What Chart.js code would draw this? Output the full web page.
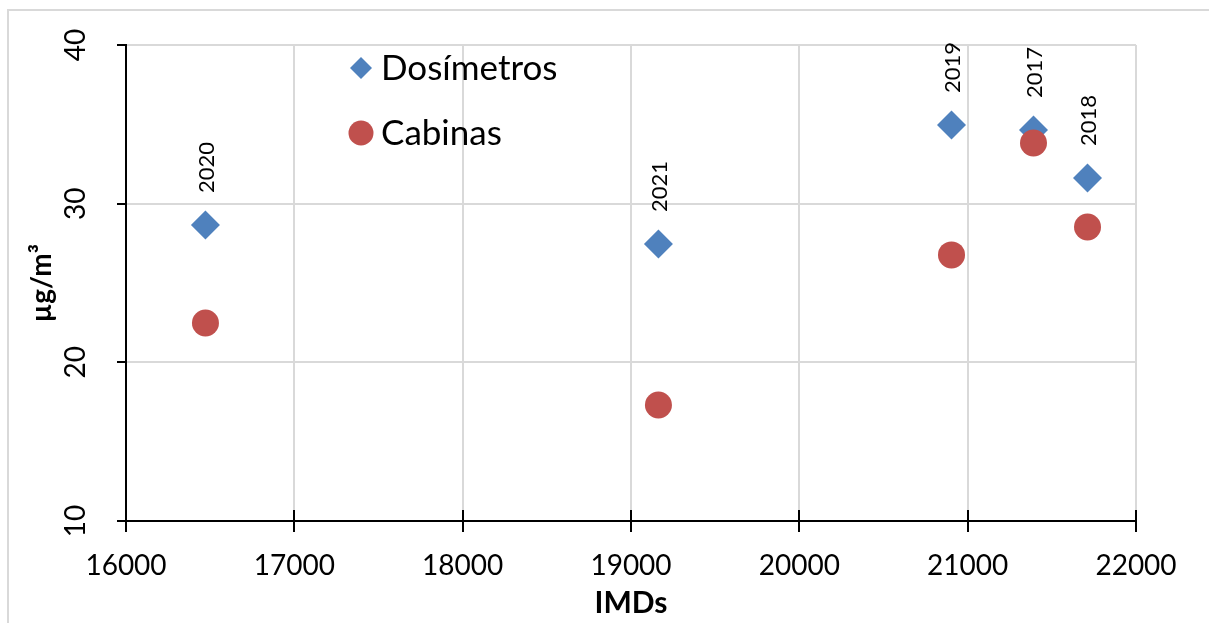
<!DOCTYPE html>
<html>
<head>
<meta charset="utf-8">
<script src="https://cdn.jsdelivr.net/npm/chart.js@4.4.1/dist/chart.umd.min.js"></script>
<style>
  html, body { margin: 0; padding: 0; background: #fff; }
  #wrap { width: 1209px; height: 623px; position: relative; }
</style>
</head>
<body>
<div id="wrap"><canvas id="c"></canvas></div>
<script>
// ---- data ----
const imds = [16472, 19163, 20904, 21391, 21712];
const years = ['2020', '2021', '2019', '2017', '2018'];
const dosimetros = [28.66, 27.46, 34.96, 34.64, 31.62];
const cabinas = [22.48, 17.31, 26.77, 33.82, 28.53];
const xTickValues = [16000, 17000, 18000, 19000, 20000, 21000, 22000];
const yTickValues = [10, 20, 30, 40];
const seriesNames = ['Dosímetros', 'Cabinas'];
const xTitle = 'IMDs';
const yTitle = 'µg/m³';

const FONT = 'Lato, "Open Sans", "Liberation Sans", sans-serif';
const BLUE = '#4f81bd';
const RED = '#c0504d';

const drawPlugin = {
  id: 'excelLook',
  beforeDraw(chart) {
    const ctx = chart.ctx;
    ctx.save();
    ctx.fillStyle = '#fff';
    ctx.fillRect(0, 0, chart.width, chart.height);
    ctx.strokeStyle = '#d9d9d9';
    ctx.lineWidth = 2;
    ctx.strokeRect(8, 10, 1400, 800);
    ctx.restore();
  },
  afterDraw(chart) {
    const ctx = chart.ctx;
    const xs = chart.scales.x, ys = chart.scales.y;
    const area = chart.chartArea;
    ctx.save();
    ctx.strokeStyle = '#000';
    ctx.lineWidth = 2;
    // x tick marks (cross)
    xTickValues.forEach(v => {
      const px = Math.round(xs.getPixelForValue(v));
      ctx.beginPath();
      ctx.moveTo(px, area.bottom - 11);
      ctx.lineTo(px, area.bottom + 11);
      ctx.stroke();
    });
    // y tick marks (outside)
    yTickValues.forEach(v => {
      const py = Math.round(ys.getPixelForValue(v));
      ctx.beginPath();
      ctx.moveTo(area.left - 9, py);
      ctx.lineTo(area.left, py);
      ctx.stroke();
    });
    ctx.fillStyle = '#000';
    // x tick labels
    ctx.font = '28px ' + FONT;
    ctx.textAlign = 'center';
    ctx.textBaseline = 'middle';
    xTickValues.forEach(v => {
      ctx.fillText(String(v), xs.getPixelForValue(v), 566);
    });
    // y tick labels rotated
    yTickValues.forEach(v => {
      ctx.save();
      ctx.translate(76, ys.getPixelForValue(v));
      ctx.rotate(-Math.PI / 2);
      ctx.fillText(String(v), 0, 0);
      ctx.restore();
    });
    // axis titles
    ctx.font = 'bold 30px ' + FONT;
    ctx.fillText(xTitle, (area.left + area.right) / 2, 603);
    ctx.save();
    ctx.translate(42, (area.top + area.bottom) / 2);
    ctx.rotate(-Math.PI / 2);
    ctx.font = 'bold 28px ' + FONT;
    ctx.fillText(yTitle, 0, 0);
    ctx.restore();
    // data labels (years) on dosimetros points
    const meta = chart.getDatasetMeta(0);
    ctx.font = '22px ' + FONT;
    ctx.textAlign = 'left';
    ctx.textBaseline = 'middle';
    meta.data.forEach((pt, i) => {
      ctx.save();
      ctx.translate(pt.x + 1, pt.y - 32);
      ctx.rotate(-Math.PI / 2);
      ctx.fillText(years[i], 0, 0);
      ctx.restore();
    });
    // legend
    const lx = 361;
    const ly = [68, 133];
    ctx.fillStyle = BLUE;
    ctx.beginPath();
    ctx.moveTo(lx, ly[0] - 11);
    ctx.lineTo(lx + 11, ly[0]);
    ctx.lineTo(lx, ly[0] + 11);
    ctx.lineTo(lx - 11, ly[0]);
    ctx.closePath();
    ctx.fill();
    ctx.fillStyle = RED;
    ctx.beginPath();
    ctx.arc(lx, ly[1], 12.5, 0, Math.PI * 2);
    ctx.fill();
    ctx.fillStyle = '#000';
    ctx.font = '35px ' + FONT;
    ctx.textAlign = 'left';
    ctx.fillText(seriesNames[0], 381, ly[0] + 1);
    ctx.fillText(seriesNames[1], 381, ly[1] + 1);
    ctx.restore();
  }
};

const toPoints = (xsArr, ysArr) => xsArr.map((x, i) => ({ x: x, y: ysArr[i] }));

new Chart(document.getElementById('c'), {
  type: 'scatter',
  data: {
    datasets: [
      {
        label: seriesNames[0],
        data: toPoints(imds, dosimetros),
        pointStyle: 'rectRot',
        pointRadius: 14.5,
        pointHoverRadius: 14.5,
        backgroundColor: BLUE,
        borderWidth: 0,
        order: 1
      },
      {
        label: seriesNames[1],
        data: toPoints(imds, cabinas),
        pointStyle: 'circle',
        pointRadius: 13.5,
        pointHoverRadius: 13.5,
        backgroundColor: RED,
        borderWidth: 0,
        order: 0
      }
    ]
  },
  options: {
    responsive: true,
    maintainAspectRatio: false,
    animation: false,
    events: [],
    layout: { padding: { left: 0, top: 45, right: 73, bottom: 0 } },
    plugins: { legend: { display: false }, tooltip: { enabled: false } },
    scales: {
      x: {
        type: 'linear',
        min: 16000, max: 22000,
        ticks: { stepSize: 1000, display: false },
        grid: { color: '#d9d9d9', lineWidth: 2, drawTicks: false },
        border: { color: '#000', width: 2 },
        afterFit(scale) { scale.height = 102; }
      },
      y: {
        type: 'linear',
        min: 10, max: 40,
        ticks: { stepSize: 10, display: false },
        grid: { color: '#d9d9d9', lineWidth: 2, drawTicks: false },
        border: { color: '#000', width: 2 },
        afterFit(scale) { scale.width = 126; }
      }
    }
  },
  plugins: [drawPlugin]
});
</script>
</body>
</html>
